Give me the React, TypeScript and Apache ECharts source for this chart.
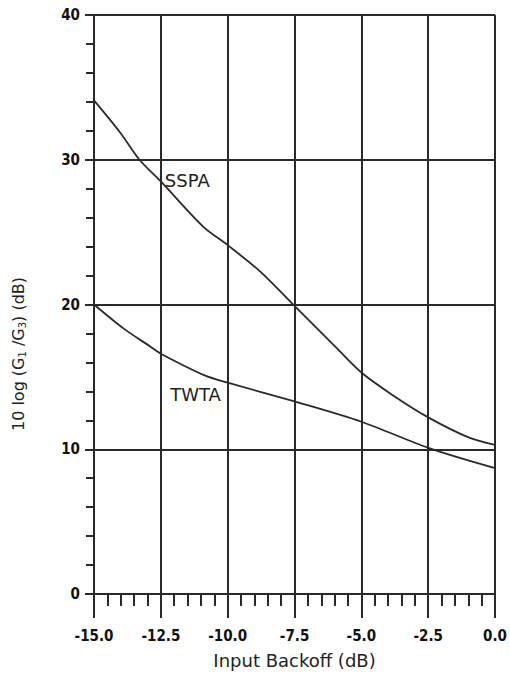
import React, { useEffect, useRef } from "react";
import * as echarts from "echarts";

const backoff = [-15, -14.03, -13.3, -12.5, -10.93, -10, -8.8, -7.5, -5.93, -5, -3.84, -2.5, -0.97, 0];
const sspa = [34.1, 31.9, 30.0, 28.5, 25.4, 24.1, 22.3, 19.9, 17.0, 15.3, 13.75, 12.2, 10.8, 10.3];
const twtaX = [-15, -13.9, -12.9, -12.5, -10.86, -10, -7.5, -5, -2.5, 0];
const twta = [20.0, 18.35, 17.1, 16.6, 15.1, 14.6, 13.3, 11.9, 10.1, 8.7];
const sspaLabelAt = [-12.35, 28.6];
const twtaLabelAt = [-12.15, 13.75];

const ink = "#2a2a2a";

export default function App() {
  const ref = useRef<HTMLDivElement>(null);
  useEffect(() => {
    const chart = echarts.init(ref.current!, null, { renderer: "svg" });
    const labelFont = {
      color: "#111",
      fontFamily: "DejaVu Sans Condensed",
      fontWeight: "bold" as const,
      fontSize: 15,
    };
    const curveLabel = {
      show: true,
      distance: 0,
      color: "#222",
      fontFamily: "DejaVu Sans",
      fontSize: 18,
    };
    chart.setOption({
      animation: false,
      backgroundColor: "#fff",
      grid: { left: 94, right: 14, top: 15, bottom: 77, containLabel: false },
      graphic: [
        {
          type: "text",
          x: 18,
          y: 354,
          rotation: Math.PI / 2,
          style: {
            text: "10 log (G{sub|1} /G{sub|3}) (dB)",
            fontFamily: "DejaVu Sans",
            fontSize: 16,
            fill: "#222",
            align: "center",
            verticalAlign: "middle",
            rich: {
              sub: { fontSize: 10, padding: [9, 0, 0, 0], fontFamily: "DejaVu Sans", fill: "#222" },
            },
          },
        },
      ],
      xAxis: {
        type: "value",
        min: -15,
        max: 0,
        interval: 2.5,
        name: "Input Backoff (dB)",
        nameLocation: "middle",
        nameGap: 57,
        nameTextStyle: { fontFamily: "DejaVu Sans", fontSize: 18, color: "#222" },
        axisLine: { show: true, onZero: false, lineStyle: { color: ink, width: 2 } },
        axisTick: { show: true, inside: false, length: 24, lineStyle: { color: ink, width: 2 } },
        minorTick: { show: true, splitNumber: 5, length: 12, lineStyle: { color: ink, width: 2 } },
        splitLine: { show: true, lineStyle: { color: ink, width: 2 } },
        axisLabel: { ...labelFont, margin: 34, formatter: (v: number) => v.toFixed(1) },
      },
      yAxis: {
        type: "value",
        min: 0,
        max: 40,
        interval: 10,
        axisLine: { show: true, onZero: false, lineStyle: { color: ink, width: 2 } },
        axisTick: { show: true, length: 9, lineStyle: { color: ink, width: 2 } },
        minorTick: { show: true, splitNumber: 5, length: 8, lineStyle: { color: ink, width: 2 } },
        splitLine: { show: true, lineStyle: { color: ink, width: 2 } },
        axisLabel: { ...labelFont, margin: 14 },
      },
      series: [
        {
          name: "SSPA",
          type: "line",
          smooth: 0.3,
          showSymbol: false,
          data: backoff.map((x, i) => [x, sspa[i]]),
          lineStyle: { color: ink, width: 1.8 },
          markPoint: {
            symbol: "circle",
            symbolSize: 0,
            data: [{ coord: sspaLabelAt }],
            label: { ...curveLabel, formatter: "SSPA", position: "right" },
          },
        },
        {
          name: "TWTA",
          type: "line",
          smooth: 0.3,
          showSymbol: false,
          data: twtaX.map((x, i) => [x, twta[i]]),
          lineStyle: { color: ink, width: 1.8 },
          markPoint: {
            symbol: "circle",
            symbolSize: 0,
            data: [{ coord: twtaLabelAt }],
            label: { ...curveLabel, formatter: "TWTA", position: "right" },
          },
        },
      ],
    });
    return () => chart.dispose();
  }, []);
  return (
    <div
      ref={ref}
      style={{ position: "fixed", left: 0, top: 0, width: 510, height: 674, background: "#fff" }}
    />
  );
}
